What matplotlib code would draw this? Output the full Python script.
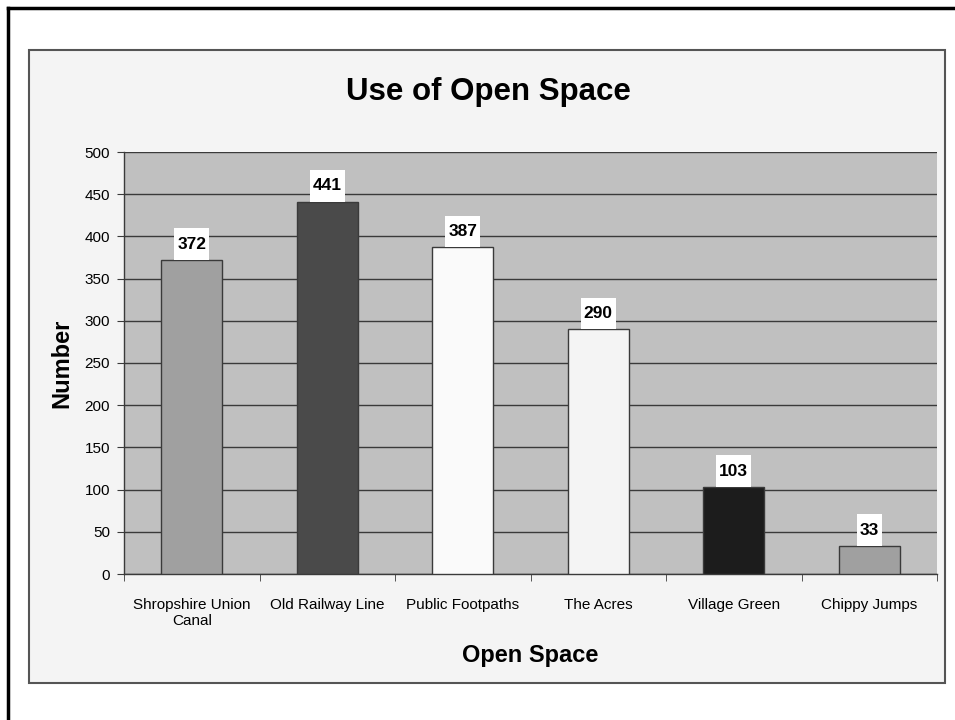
import matplotlib
matplotlib.use("Agg")
import matplotlib.pyplot as plt
from matplotlib.patches import Rectangle
from matplotlib.lines import Line2D
from matplotlib.path import Path
import numpy as np

categories = ["Shropshire Union\nCanal", "Old Railway Line", "Public Footpaths",
              "The Acres", "Village Green", "Chippy Jumps"]
values = [372, 441, 387, 290, 103, 33]
bar_colors = ["#a0a0a0", "#4a4a4a", "#fafafa", "#f4f4f4", "#1c1c1c", "#a0a0a0"]
y_ticks = [0, 50, 100, 150, 200, 250, 300, 350, 400, 450, 500]

plt.rcParams['font.family'] = ['Liberation Sans', 'DejaVu Sans']

W, H = 955, 720
fig = plt.figure(figsize=(W / 100, H / 100), dpi=100)
fig.patch.set_facecolor("white")

def fx(px):
    return px / W

def fy(py):
    return 1 - py / H

HPAD, VPAD = 0.17, 0.48

def label_box(x0, y0, width, height, mutation_size):
    hp = HPAD * mutation_size
    vp = VPAD * mutation_size
    xa, xb = x0 - hp, x0 + width + hp
    ya, yb = y0 - vp, y0 + height + vp
    return Path([(xa, ya), (xb, ya), (xb, yb), (xa, yb), (xa, ya)], closed=True)

# outer border (top and left visible)
fig.add_artist(Line2D([fx(8), 1.0], [fy(8), fy(8)], color="black", lw=2.5,
                      transform=fig.transFigure))
fig.add_artist(Line2D([fx(8), fx(8)], [fy(8), 0.0], color="black", lw=2.5,
                      transform=fig.transFigure))

# chart area box
fig.add_artist(Rectangle((fx(29), fy(683)), fx(945) - fx(29), fy(50) - fy(683),
                         facecolor="#f4f4f4", edgecolor="#555555", lw=1.5,
                         transform=fig.transFigure, zorder=0))

ax = fig.add_axes([fx(124), fy(574), fx(937) - fx(124), fy(152) - fy(574)])
ax.set_facecolor("#c0c0c0")

x = np.arange(len(categories))
ax.set_axisbelow(True)
ax.yaxis.grid(True, color="#3a3a3a", lw=1)
ax.bar(x, values, width=0.45, color=bar_colors, edgecolor="#3a3a3a", lw=1, zorder=3)

fs_lab = 12.5
for xi, v in zip(x, values):
    ax.annotate(str(v), xy=(xi, v), xytext=(0, VPAD * fs_lab), textcoords="offset points",
                ha="center", va="bottom", fontsize=fs_lab, fontweight="bold",
                bbox=dict(boxstyle=label_box, facecolor="white", edgecolor="none"),
                zorder=4)

ax.set_xlim(-0.5, len(categories) - 0.5)
ax.set_ylim(0, 500)
ax.set_yticks(y_ticks)
ax.set_yticklabels([str(t) for t in y_ticks], fontsize=11)
ax.set_xticks(x)
ax.set_xticklabels(categories, fontsize=11)
ax.set_xticks(np.arange(-0.5, len(categories)), minor=True)
ax.tick_params(axis="x", which="major", length=0, pad=17)
ax.tick_params(axis="x", which="minor", length=5, color="#3a3a3a")
ax.tick_params(axis="y", length=5, color="#3a3a3a", pad=5)

for s in ["top", "right"]:
    ax.spines[s].set_visible(False)
for s in ["left", "bottom"]:
    ax.spines[s].set_color("#3a3a3a")
    ax.spines[s].set_linewidth(1)

ax.set_xlabel("Open Space", fontsize=17, fontweight="bold", labelpad=12)
ax.set_ylabel("Number", fontsize=17, fontweight="bold", labelpad=8)
fig.text(fx(488), fy(92), "Use of Open Space", ha="center", va="center",
         fontsize=22.5, fontweight="bold")

fig.savefig("out.png", dpi=100, facecolor=fig.get_facecolor())
